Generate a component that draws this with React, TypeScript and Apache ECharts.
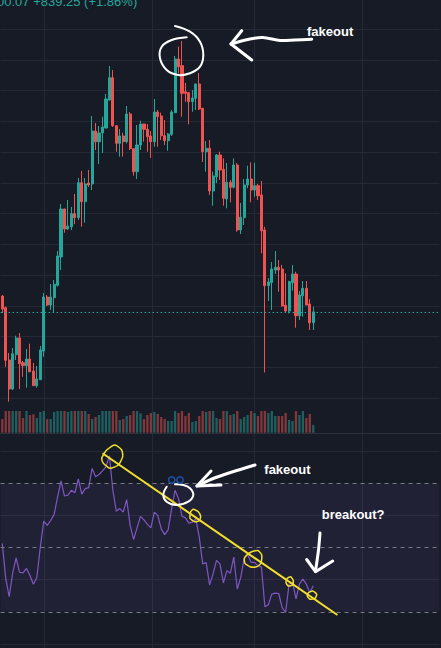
import React, { useEffect, useRef } from "react";
import * as echarts from "echarts";

// ---- data ----
const categories: string[] = Array.from({ length: 127 }, (_, i) => String(i + 1));

const opens = [
  46158, 45968, 45118, 44646, 45204, 45476, 45074, 45025, 45134, 44939,
  44700, 44798, 45264, 46142, 46012, 46131, 46333, 46793, 47573, 47248,
  47285, 47497, 47432, 48001, 47692, 47996, 47980, 48841, 48667, 48809,
  48890, 49345, 49708, 48928, 48641, 48760, 48667, 49118, 48554, 48180,
  48614, 48955, 48869, 48760, 48667, 49150, 49085, 48765, 48684, 48788,
  49139, 50012, 49903, 49480, 49464, 49318, 49373, 49606, 49211, 48505,
  48560, 47866, 48098, 48451, 48219, 47736, 48007, 47926, 48289, 47232,
  47432, 47963, 48061, 47882, 47952, 47801, 47232, 46326, 46378, 46581,
  46625, 46598, 46007, 45915, 46375, 46516, 45838, 46163, 46284, 46028,
  45724,
];
const closes = [
  45947, 45113, 44646, 45220, 45476, 45058, 45025, 45134, 44928, 44700,
  44809, 45280, 46142, 46012, 46142, 46349, 46809, 47573, 47248, 47297,
  47497, 47432, 48001, 47692, 47980, 47963, 48841, 48667, 48809, 48906,
  49362, 49708, 48928, 48641, 48760, 48667, 49118, 48554, 48180, 48614,
  48955, 48869, 48749, 48667, 49150, 49074, 48765, 48684, 48793, 49150,
  50012, 49887, 49454, 49454, 49318, 49378, 49606, 49199, 48505, 48560,
  47866, 48110, 48451, 48207, 47747, 48007, 47926, 48289, 47232, 47438,
  47963, 48061, 47882, 47952, 47789, 47220, 46326, 46386, 46598, 46625,
  46581, 45996, 45915, 46391, 46516, 45838, 46175, 46284, 46012, 45724,
  45900,
];
const highs = [
  46175, 45985, 45232, 45313, 45513, 45557, 45102, 45297, 45383, 45069,
  45020, 45346, 46207, 46175, 46354, 46419, 46890, 47654, 47578, 47719,
  47606, 47817, 48077, 48191, 48077, 48207, 49085, 48972, 48923, 49074,
  49443, 49898, 49833, 48935, 48874, 48814, 49248, 49150, 48560, 48939,
  49009, 48960, 48955, 48841, 49362, 49183, 49139, 49020, 48809, 49183,
  50061, 50212, 50305, 49622, 49475, 49508, 49610, 49785, 49215, 48679,
  48695, 48180, 48467, 48505, 48397, 48321, 48045, 48397, 48321, 47671,
  48061, 48277, 48332, 48326, 47980, 48028, 47285, 46451, 46711, 46890,
  46744, 46663, 46528, 46407, 46663, 46554, 46240, 46402, 46402, 46110,
  45985,
];
const lows = [
  45882, 45009, 44440, 44630, 45118, 44646, 44846, 44667, 44918, 44695,
  44667, 44793, 45172, 45996, 45931, 45887, 46310, 46581, 47188, 47232,
  47232, 47329, 47394, 47285, 47350, 47931, 47882, 48532, 48305, 48484,
  48885, 49340, 48906, 48504, 48424, 48424, 48641, 48532, 48115, 48061,
  48532, 48667, 48504, 48402, 48586, 48586, 48695, 48614, 48521, 48760,
  49135, 49780, 49074, 49318, 48950, 49155, 49183, 49183, 48337, 48180,
  47801, 47627, 47996, 48045, 47627, 47585, 47682, 47910, 47204, 47167,
  47313, 47910, 47682, 47773, 47719, 46853, 44915, 46077, 45931, 46516,
  46228, 45985, 45887, 45877, 46245, 45643, 45768, 45822, 46008, 45606,
  45606,
];
const volumes = [
  41, 65, 65, 65, 65, 65, 44, 65, 53, 55,
  44, 62, 65, 41, 41, 62, 65, 65, 65, 62,
  65, 65, 65, 65, 65, 56, 41, 47, 53, 65,
  65, 65, 65, 65, 38, 41, 50, 53, 65, 65,
  58, 41, 53, 59, 62, 56, 47, 41, 35, 35,
  65, 59, 65, 50, 59, 32, 35, 50, 65, 62,
  65, 65, 44, 41, 65, 65, 53, 56, 65, 41,
  47, 53, 65, 59, 50, 65, 65, 59, 65, 50,
  50, 50, 59, 38, 35, 65, 53, 65, 44, 56,
  23,
];
const rsi = [
  51.3, 40.3, 34.7, 42.0, 46.8, 42.3, 42.1, 43.5, 41.3, 38.6,
  40.7, 50.1, 58.2, 56.9, 58.4, 60.3, 65.7, 70.7, 66.0, 66.3,
  67.8, 67.0, 71.3, 66.6, 68.3, 68.6, 74.6, 72.0, 72.7, 73.8,
  75.1, 78.5, 67.8, 61.3, 62.1, 61.0, 64.9, 56.9, 52.5, 56.1,
  59.7, 58.6, 57.2, 56.1, 61.0, 60.0, 55.8, 54.0, 55.5, 62.0,
  67.8, 65.2, 59.7, 59.2, 57.6, 57.9, 59.0, 53.3, 44.9, 45.3,
  38.4, 41.8, 46.0, 44.9, 39.0, 42.8, 42.0, 47.0, 37.1, 40.7,
  46.5, 47.8, 45.4, 45.4, 44.3, 43.9, 31.6, 32.2, 35.5, 35.8,
  35.7, 31.3, 29.8, 38.6, 39.2, 34.0, 38.6, 40.2, 38.6, 36.0,
  38.1,
];
const lastPrice = 45900.07;
const legendText = "00.07 +839.25 (+1.86%)";
const rsiLevels = [70, 50, 30];
const trendStart = [29, 79.3];
const trendEnd = [97, 29.0];

// ---- styles ----
const BG = "#171b26";
const GRID = "#252935";
const UP = "#26a69a";
const DOWN = "#ef5350";
const WHITE = "#ffffff";
const YEL = "#f2e02a";
const FONT = '"Liberation Sans", Arial, sans-serif';

const candleData = opens.map((o, i) => [o, closes[i], lows[i], highs[i]]);
const volData = volumes.map((v, i) => ({
  value: v,
  itemStyle: { color: closes[i] >= opens[i] ? "rgba(38,166,154,0.5)" : "rgba(239,83,80,0.5)" },
}));

const gridL = 0.57;
const gridW = 438.8;

function poly(points: number[][], width: number, color: string, smooth = 0.4, closed = false) {
  return {
    type: closed ? "polygon" : "polyline",
    shape: { points, smooth },
    style: { stroke: color, lineWidth: width, fill: "none", lineCap: "round", lineJoin: "round" },
    z: 50,
    silent: true,
  };
}
function txt(text: string, x: number, y: number) {
  return {
    type: "text",
    x,
    y,
    z: 50,
    silent: true,
    style: {
      text,
      fill: WHITE,
      font: `bold 13px ${FONT}`,
      align: "left",
      verticalAlign: "middle",
    },
  };
}

const vlines = [44.5, 152.5, 254.5, 362.5].map((x) => ({
  type: "line",
  shape: { x1: x, y1: 0, x2: x, y2: 648 },
  style: { stroke: GRID, lineWidth: 1 },
  z: 0,
  silent: true,
}));

const option: any = {
  animation: false,
  backgroundColor: BG,
  grid: [
    { left: gridL, width: gridW, top: 29, height: 369 },
    { left: gridL, width: gridW, top: 411, height: 21.7 },
    { left: gridL, width: gridW, top: 451, height: 193 },
  ],
  xAxis: [0, 1, 2].map((g) => ({
    type: "category",
    gridIndex: g,
    data: categories,
    show: false,
  })),
  yAxis: [
    {
      gridIndex: 0,
      min: 44500,
      max: 50500,
      interval: 500,
      axisLabel: { show: false },
      axisLine: { show: false },
      axisTick: { show: false },
      splitLine: { show: true, lineStyle: { color: GRID, width: 1 } },
    },
    { gridIndex: 1, min: 0, max: 65, show: false, splitLine: { show: false } },
    {
      gridIndex: 2,
      min: 20,
      max: 80,
      interval: 20,
      axisLabel: { show: false },
      axisLine: { show: false },
      axisTick: { show: false },
      splitLine: { show: true, lineStyle: { color: GRID, width: 1 } },
    },
  ],
  series: [
    {
      type: "candlestick",
      xAxisIndex: 0,
      yAxisIndex: 0,
      data: candleData,
      barWidth: 2.6,
      clip: false,
      itemStyle: {
        color: UP,
        color0: DOWN,
        borderColor: UP,
        borderColor0: DOWN,
        borderWidth: 1,
      },
      markLine: {
        silent: true,
        symbol: ["none", "none"],
        label: { show: false },
        lineStyle: { color: UP, type: [1.5, 2.5], width: 1 },
        data: [{ yAxis: lastPrice }],
      },
    },
    {
      type: "bar",
      xAxisIndex: 1,
      yAxisIndex: 1,
      data: volData,
      barWidth: 2.3,
    },
    {
      type: "line",
      xAxisIndex: 2,
      yAxisIndex: 2,
      data: rsi,
      symbol: "none",
      lineStyle: { color: "#7e57c2", width: 1.2 },
      markArea: {
        silent: true,
        itemStyle: { color: "rgba(126,87,194,0.1)" },
        data: [[{ yAxis: rsiLevels[2] }, { yAxis: rsiLevels[0] }]],
      },
      markLine: {
        silent: true,
        symbol: ["none", "none"],
        label: { show: false },
        data: [
          ...rsiLevels.map((v) => ({
            yAxis: v,
            lineStyle: { color: "#787b86", type: [4, 4], width: 1 },
          })),
          [
            { coord: trendStart, lineStyle: { color: YEL, width: 2, type: "solid" } },
            { coord: trendEnd },
          ],
        ],
      },
    },
  ],
  graphic: [
    ...vlines,
    {
      type: "line",
      shape: { x1: 0, y1: 433.5, x2: 441, y2: 433.5 },
      style: { stroke: "#2c303c", lineWidth: 1 },
      z: 0,
      silent: true,
    },
    {
      type: "text",
      x: -3,
      y: 1,
      z: 50,
      silent: true,
      style: { text: legendText, fill: UP, font: `13px ${FONT}`, align: "left", verticalAlign: "middle" },
    },
    // top annotations
    poly(
      [[175, 26], [190, 31.7], [200, 41.7], [203.3, 55], [200, 66.7], [190, 73.3], [178.3, 75], [166.7, 70], [160, 58.3], [161.7, 46.7], [171.7, 40], [186.7, 37.3]],
      2,
      WHITE
    ),
    poly([[311.7, 39.3], [295, 40], [280, 40.5], [263, 37.5], [250, 39], [231, 44]], 3, WHITE, 0.3),
    poly([[241.7, 30.7], [231, 44], [251.7, 60]], 3, WHITE, 0),
    txt("fakeout", 307, 31.5),
    // RSI annotations
    poly(
      [[166.7, 486.7], [163.3, 495], [166.7, 501.7], [176.7, 505], [188.3, 501.7], [193.3, 495], [190, 488.3], [183.3, 485], [175, 484.3]],
      2,
      WHITE
    ),
    {
      type: "circle",
      shape: { cx: 171.7, cy: 480, r: 3.2 },
      style: { stroke: "#1f4fa6", lineWidth: 1.5, fill: "none" },
      z: 50,
      silent: true,
    },
    {
      type: "circle",
      shape: { cx: 180, cy: 480, r: 3.2 },
      style: { stroke: "#1f4fa6", lineWidth: 1.5, fill: "none" },
      z: 50,
      silent: true,
    },
    poly([[255, 465], [232, 472], [212, 479], [197, 486]], 3, WHITE, 0.3),
    poly([[211, 471], [197, 486], [221, 485]], 3, WHITE, 0),
    txt("fakeout", 264.3, 469.5),
    txt("breakout?", 321.7, 514),
    poly([[320, 533], [318.5, 550], [315.5, 571]], 3, WHITE, 0.3),
    poly([[306.7, 559.5], [315.5, 571.7], [332.7, 561]], 3, WHITE, 0),
    // yellow hand circles
    poly([[103.3, 455], [106.7, 450], [115, 445], [121.7, 450], [122.7, 456.7], [118.3, 465], [110, 468.3], [103.3, 463.3], [101.7, 458.3]], 1.5, YEL, 0.2, true),
    poly([[190.7, 511.7], [193.3, 509.3], [198.3, 511.7], [200.7, 516.7], [199.3, 520.7], [195, 521.7], [190, 518.3]], 1.5, YEL, 0.2, true),
    poly([[246.7, 555], [251.7, 551.7], [258.3, 550.7], [261.7, 555], [261, 563.3], [256.7, 566.7], [250, 566.7], [245, 563.3], [244.3, 558.3]], 1.5, YEL, 0.2, true),
    poly([[287.3, 578.3], [290.7, 576.7], [293.3, 580.7], [292.7, 585], [288.3, 586], [286, 582.7]], 1.5, YEL, 0.2, true),
    poly([[308.3, 592.7], [312.7, 591], [316.7, 594.3], [315, 598.3], [310, 599.3], [307.3, 596]], 1.5, YEL, 0.2, true),
  ],
};

export default function App() {
  const ref = useRef<HTMLDivElement>(null);
  useEffect(() => {
    const chart = echarts.init(ref.current as HTMLDivElement, null, { renderer: "svg" });
    chart.setOption(option);
    return () => chart.dispose();
  }, []);
  return (
    <div
      ref={ref}
      style={{ position: "absolute", left: 0, top: 0, width: 441, height: 648 }}
    />
  );
}
